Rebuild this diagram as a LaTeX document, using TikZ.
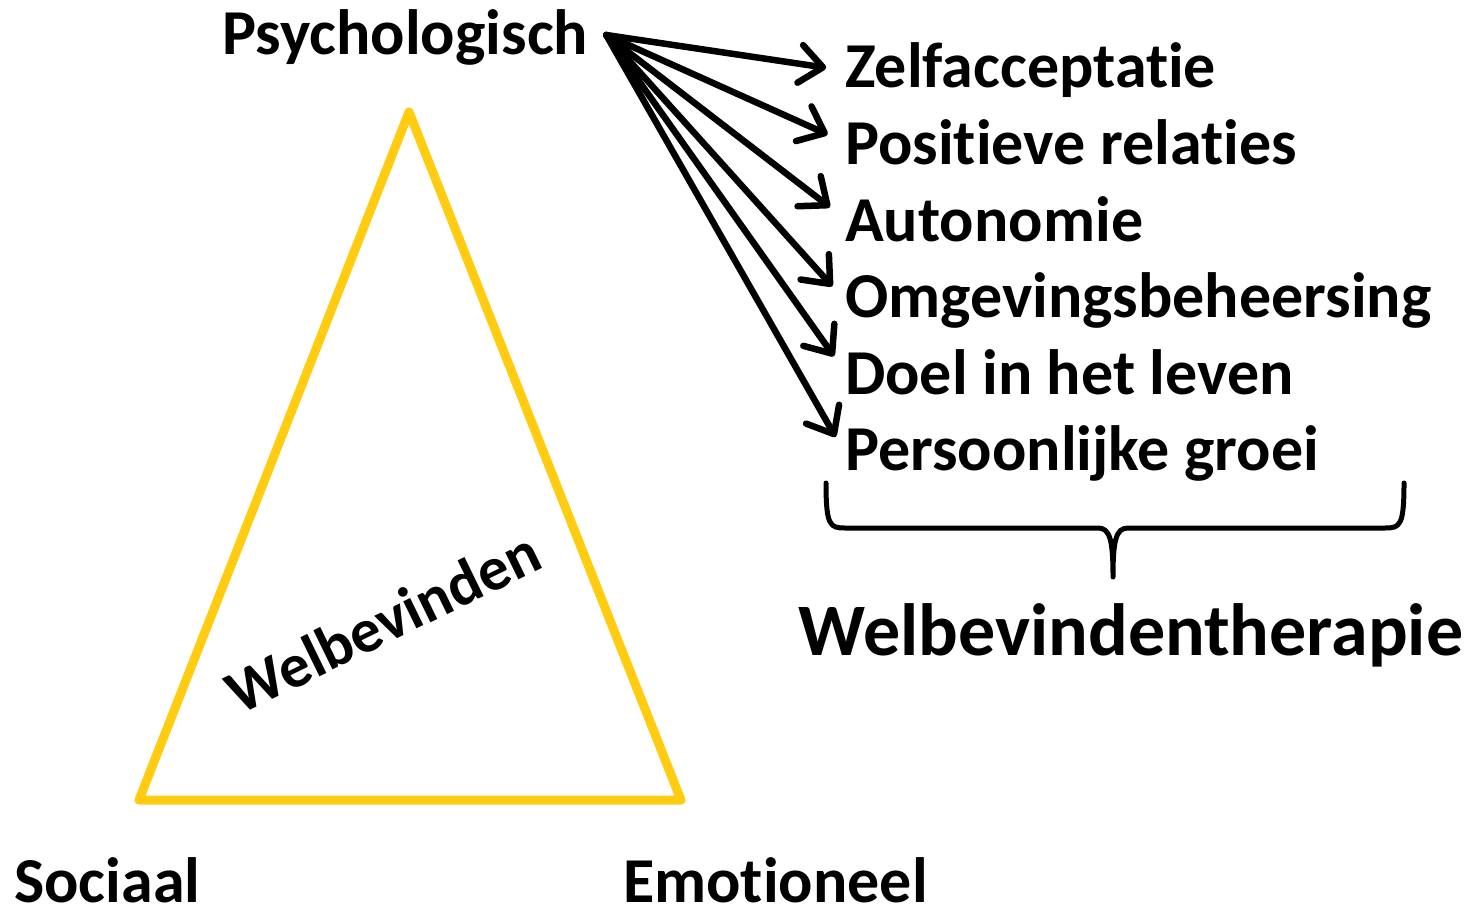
\documentclass[tikz,border=0pt]{standalone}
\usepackage{fontspec}
\setmainfont{Carlito}[Ligatures=NoCommon]
\usetikzlibrary{arrows.meta,positioning,calc}

\definecolor{gold}{RGB}{255,204,17}

\begin{document}
\begin{tikzpicture}[x=1pt, y=-1pt,
  item/.style={anchor=base west, inner sep=0pt, font=\bfseries\fontsize{64}{70}\selectfont},
  corner/.style={anchor=base west, inner sep=0pt, font=\bfseries\fontsize{64}{70}\selectfont},
  arr/.style={-{Straight Barb[length=23pt, width=38pt, round]}, line width=6.5pt, line cap=round, line join=round, shorten >=19pt},
  tri/.style={draw=gold, line width=9pt, line join=round}
]

\useasboundingbox (0,0) rectangle (1479,909);

% triangle
\coordinate (top) at (409,112);
\coordinate (sl) at (139,800);
\coordinate (sr) at (681,800);
\draw[tri] (top) -- (sl) -- (sr) -- cycle;

\node[rotate=26, inner sep=0pt, font=\bfseries\fontsize{62}{70}\selectfont] (wb) at (383,622) {Welbevinden};

\node[corner] (psy) at (222,55) {Psychologisch};
\node[corner] (soc) at (14,902) {Sociaal};
\node[corner] (emo) at (623,902) {Emotioneel};

% dimensions
\foreach \t [count=\i] in {Zelfacceptatie, Positieve relaties, Autonomie,
    Omgevingsbeheersing, Doel in het leven, Persoonlijke groei}
  \node[item] (it\i) at (845,{88+76.5*(\i-1)}) {\t};

\coordinate (src) at ($(psy.base east)+(18,-20)$);
\foreach \i in {1,...,6}
  \draw[arr] (src) -- (it\i.west);

% brace
\coordinate (tip) at (1113,577);
\draw[line width=5pt, line join=round, line cap=round]
  (826,483) .. controls (826,526) and (830,528) .. (845,528) -- (1098,528)
  .. controls (1110,528) and (1113,540) .. (tip)
  .. controls (1113,540) and (1116,528) .. (1128,528) -- (1385,528)
  .. controls (1400,528) and (1404,526) .. (1404,483);

\node[anchor=base, inner sep=0pt, font=\bfseries\fontsize{74}{82}\selectfont] (wbt) at (1131,655) {Welbevindentherapie};

\end{tikzpicture}
\end{document}
